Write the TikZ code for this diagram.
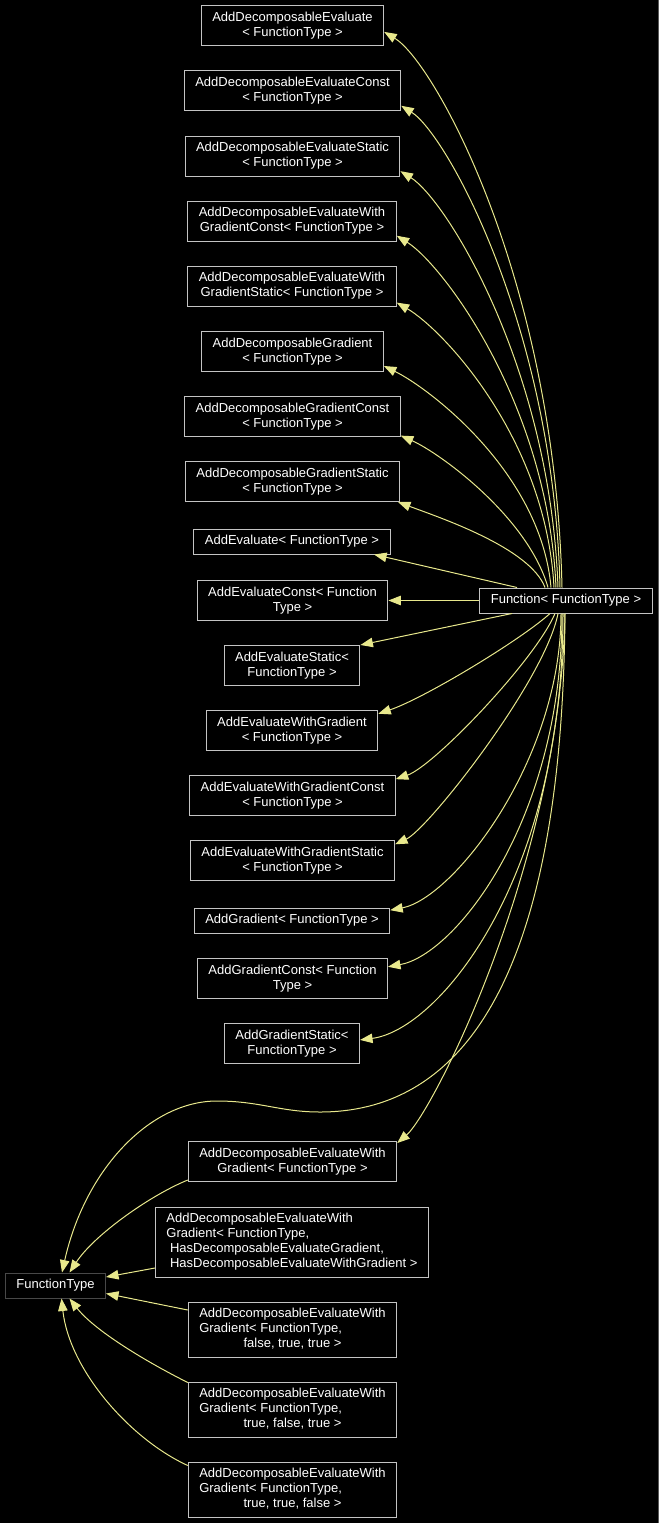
\documentclass[tikz,border=0pt]{standalone}
\usepackage{fontspec}
\setmainfont{Liberation Sans}
\usepackage{tikz}
\usetikzlibrary{arrows.meta}
\definecolor{edgekhaki}{RGB}{232,232,140}
\definecolor{boxgrey}{RGB}{196,196,196}
\definecolor{basegrey}{RGB}{72,72,72}
\definecolor{rimgrey}{RGB}{90,90,90}

\begin{document}
\begin{tikzpicture}[
    x=1pt, y=1pt,
    cls/.style={draw=boxgrey, line width=1pt, fill=black, text=white,
                font=\fontsize{13}{15}\selectfont, align=center,
                inner xsep=11pt, inner ysep=2pt, minimum height=40pt},
    base/.style={cls, draw=basegrey, minimum height=25pt},
    inh/.style={draw=edgekhaki, line width=1pt,
                -{Triangle[length=12.5pt, width=9.5pt, fill=edgekhaki]}},
]
\fill[black] (0,0) rectangle (659,-1523);
\useasboundingbox (0,0) rectangle (659,-1523);
\draw[rimgrey, line width=1pt] (658.5,0) -- (658.5,-1523);

\node[cls] (adEval) at (292.5,-25.5) {AddDecomposableEvaluate\\< FunctionType >};
\node[cls] (adEvalC) at (292.5,-90.5) {AddDecomposableEvaluateConst\\< FunctionType >};
\node[cls] (adEvalS) at (292.5,-156) {AddDecomposableEvaluateStatic\\< FunctionType >};
\node[cls] (adEvalWGC) at (292,-221) {AddDecomposableEvaluateWith\\GradientConst< FunctionType >};
\node[cls] (adEvalWGS) at (292,-286) {AddDecomposableEvaluateWith\\GradientStatic< FunctionType >};
\node[cls] (adGrad) at (292.5,-351.5) {AddDecomposableGradient\\< FunctionType >};
\node[cls] (adGradC) at (292.5,-416.5) {AddDecomposableGradientConst\\< FunctionType >};
\node[cls] (adGradS) at (292.5,-481.5) {AddDecomposableGradientStatic\\< FunctionType >};
\node[cls, minimum height=25pt] (aEval) at (292,-541.5) {AddEvaluate< FunctionType >};
\node[cls] (aEvalC) at (292.5,-600.5) {AddEvaluateConst< Function\\Type >};
\node[cls] (aEvalS) at (292,-665.5) {AddEvaluateStatic<\\FunctionType >};
\node[cls] (aEvalWG) at (292,-730.5) {AddEvaluateWithGradient\\< FunctionType >};
\node[cls] (aEvalWGC) at (292.5,-795.5) {AddEvaluateWithGradientConst\\< FunctionType >};
\node[cls] (aEvalWGS) at (292.5,-860.5) {AddEvaluateWithGradientStatic\\< FunctionType >};
\node[cls, minimum height=25pt] (aGrad) at (292,-920.5) {AddGradient< FunctionType >};
\node[cls] (aGradC) at (292.5,-978.5) {AddGradientConst< Function\\Type >};
\node[cls] (aGradS) at (292,-1043.5) {AddGradientStatic<\\FunctionType >};
\node[cls] (adEvalWG) at (292.5,-1161.5) {AddDecomposableEvaluateWith\\Gradient< FunctionType >};
\node[cls, align=left, minimum height=70pt] (adEvalWGh) at (292,-1242)
    {AddDecomposableEvaluateWith\\Gradient< FunctionType,\\
     \hspace*{3.6pt}HasDecomposableEvaluateGradient,\\
     \hspace*{3.6pt}HasDecomposableEvaluateWithGradient >};
\node[cls, minimum height=55pt] (adEvalWGftt) at (292.5,-1329.5)
    {\begin{tabular}{@{}l@{}}AddDecomposableEvaluateWith\\Gradient< FunctionType,\\
     \multicolumn{1}{@{}c@{}}{false, true, true >}\end{tabular}};
\node[cls, minimum height=55pt] (adEvalWGtft) at (292.5,-1409.5)
    {\begin{tabular}{@{}l@{}}AddDecomposableEvaluateWith\\Gradient< FunctionType,\\
     \multicolumn{1}{@{}c@{}}{true, false, true >}\end{tabular}};
\node[cls, minimum height=55pt] (adEvalWGttf) at (292.5,-1489.5)
    {\begin{tabular}{@{}l@{}}AddDecomposableEvaluateWith\\Gradient< FunctionType,\\
     \multicolumn{1}{@{}c@{}}{true, true, false >}\end{tabular}};
\node[cls, minimum height=25pt] (func) at (566,-600.5) {Function< FunctionType >};
\node[base] (ftype) at (55.5,-1285.5) {FunctionType};

\draw[inh] ([xshift=-4pt]func.north) .. controls +(-7,308) and +(50,-30) .. (adEval.-4);
\draw[inh] ([xshift=-6pt]func.north) .. controls +(-6,260) and +(45,-28) .. (adEvalC.-8);
\draw[inh] ([xshift=-8pt]func.north) .. controls +(-8,222) and +(45,-28) .. (adEvalS.-8);
\draw[inh] ([xshift=-10pt]func.north) .. controls +(-8,185) and +(45,-28) .. (adEvalWGC.-8);
\draw[inh] ([xshift=-12pt]func.north) .. controls +(-8,150) and +(45,-26) .. (adEvalWGS.-9);
\draw[inh] ([xshift=-15pt]func.north) .. controls +(-10,115) and +(45,-22) .. (adGrad.-9);
\draw[inh] ([xshift=-18pt]func.north) .. controls +(-20,70) and +(40,-18) .. (adGradC.-10);
\draw[inh] ([xshift=-21pt]func.north) .. controls +(-15,40) and +(40,-15) .. (adGradS.-11.5);
\draw[inh] ([xshift=-49pt]func.north) -- (aEval.-9.3);
\draw[inh] (func.west) -- (aEvalC.east);
\draw[inh] ([xshift=-54pt]func.south) -- (aEvalS.north east);
\draw[inh] ([xshift=-16pt]func.south) .. controls +(-30,-27) and +(45,15) .. (aEvalWG.11);
\draw[inh] ([xshift=-11pt]func.south) .. controls +(-20,-47) and +(38,13) .. (aEvalWGC.9.6);
\draw[inh] ([xshift=-8pt]func.south) .. controls +(-13,-67) and +(33,15) .. (aEvalWGS.9.6);
\draw[inh] ([xshift=-5pt]func.south) .. controls +(0,-147) and +(63,12) .. (aGrad.6);
\draw[inh] ([xshift=-4pt]func.south) .. controls +(0,-207) and +(67,12) .. (aGradC.7);
\draw[inh] ([xshift=-3pt]func.south) .. controls +(0,-267) and +(78,10) .. (aGradS.3);
\draw[inh] ([xshift=-1pt]func.south) .. controls +(-5,-250) and +(35,30) .. (adEvalWG.10);
\draw[inh] ([xshift=-1pt]func.south) .. controls +(-3,-387) and +(130,0) .. (320,-1112)
    .. controls +(-40,0) and +(43,0) .. (217,-1101)
    .. controls +(-67,0) and +(23,103) .. ([xshift=6.5pt]ftype.north);
\draw[inh] ([yshift=2pt]adEvalWG.south west) .. controls +(-37,-15) and +(25,38) .. ([xshift=14pt]ftype.north);
\draw[inh] ([yshift=-26pt]adEvalWGh.west) -- ([yshift=8.5pt]ftype.east);
\draw[inh] ([yshift=19.5pt]adEvalWGftt.west) -- ([yshift=-8pt]ftype.east);
\draw[inh] ([yshift=-1pt]adEvalWGtft.north west) .. controls +(-42,21) and +(25,-32) .. ([xshift=14pt]ftype.south);
\draw[inh] ([yshift=-4pt]adEvalWGttf.north west) .. controls +(-57,26) and +(8,-72) .. ([xshift=6pt]ftype.south);
\end{tikzpicture}
\end{document}
